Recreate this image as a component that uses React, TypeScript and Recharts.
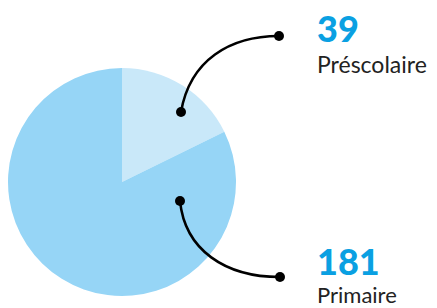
import { Pie, PieChart, Cell } from 'recharts';

const categories = ['Préscolaire', 'Primaire'];
const values = [39, 181];
const sliceColors = ['#c9e8f9', '#96d5f6'];

const data = categories.map((name, i) => ({ name, value: values[i] }));

// annotation anchors, relative to the pie centre
const annotations = [
  { dot: [59, -70], end: [157, -146], c1: [68, -122], c2: [108, -146], textY: -140, labelGap: 31, labelSize: 23 },
  { dot: [58, 19], end: [158, 95], c1: [63, 68], c2: [103, 95], textY: 93, labelGap: 28, labelSize: 22 },
];

const NUM_BLUE = '#0aa0e2';

function renderLabel(props: any) {
  const { cx, cy, index } = props;
  const a = annotations[index];
  if (!a) return null;
  const [dx, dy] = a.dot;
  const [ex, ey] = a.end;
  const d = `M${cx + dx},${cy + dy} C${cx + a.c1[0]},${cy + a.c1[1]} ${cx + a.c2[0]},${cy + a.c2[1]} ${cx + ex},${cy + ey}`;
  const tx = cx + 195;
  return (
    <g key={`ann-${index}`}>
      <path d={d} fill="none" stroke="#000" strokeWidth={2.5} />
      <circle cx={cx + dx} cy={cy + dy} r={5} fill="#000" />
      <circle cx={cx + ex} cy={cy + ey} r={5} fill="#000" />
      <text x={tx} y={cy + a.textY} fill={NUM_BLUE} fontFamily="Lato, sans-serif" fontWeight={900} fontSize={36}>
        {values[index]}
      </text>
      <text x={tx} y={cy + a.textY + a.labelGap} fill="#222" fontFamily="Lato, sans-serif" fontWeight={400} fontSize={a.labelSize}>
        {categories[index]}
      </text>
    </g>
  );
}

export default function App() {
  return (
    <div style={{ position: 'absolute', left: 0, top: 0, background: '#fff' }}>
      <PieChart width={437} height={308} margin={{ top: 0, right: 0, bottom: 0, left: 0 }}>
        <Pie
          data={data}
          dataKey="value"
          cx={122}
          cy={182}
          outerRadius={114}
          startAngle={90}
          endAngle={-270}
          stroke="none"
          label={renderLabel}
          labelLine={false}
          isAnimationActive={false}
        >
          {data.map((d, i) => (
            <Cell key={d.name} fill={sliceColors[i]} />
          ))}
        </Pie>
      </PieChart>
    </div>
  );
}
